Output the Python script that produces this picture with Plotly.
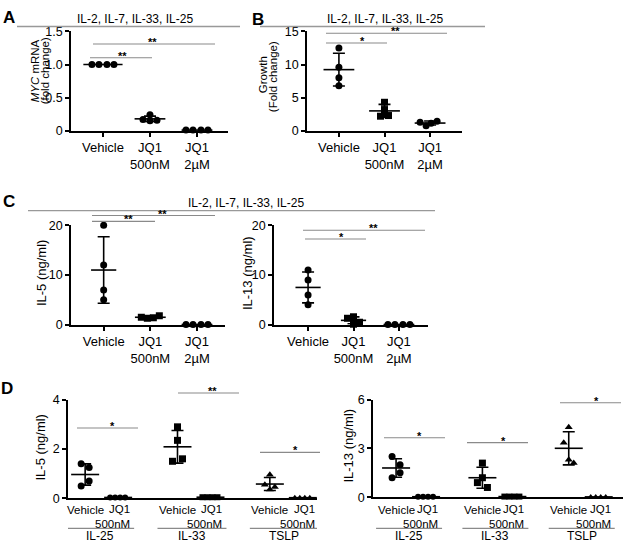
import numpy as np
import plotly.graph_objects as go

W, H = 625, 551
FONT = "Liberation Sans, Arial, sans-serif"

# ------------------------------------------------------------------ data
abc_categories = ["Vehicle", "JQ1 500nM", "JQ1 2µM"]
abc_ticktext = ["Vehicle", "JQ1<br>500nM", "JQ1<br>2µM"]
header_text = "IL-2, IL-7, IL-33, IL-25"

# Panel A: MYC mRNA (fold change)
myc_vehicle = [1.0, 1.0, 1.0, 1.0]
myc_jq1_500nm = [0.24, 0.17, 0.15, 0.16]
myc_jq1_2um = [0.01, 0.01, 0.01, 0.01]

# Panel B: Growth (fold change)
growth_vehicle = [12.5, 9.6, 8.0, 6.8]
growth_jq1_500nm = [4.3, 3.2, 2.2, 2.3]
growth_jq1_2um = [1.3, 0.75, 1.15, 1.45]

# Panel C: IL-5 / IL-13 (ng/ml)
c_il5_vehicle = [20.0, 12.0, 7.0, 5.0]
c_il5_jq1_500nm = [1.5, 1.3, 1.4, 1.8]
c_il5_jq1_2um = [0.03, 0.03, 0.03, 0.03]
c_il13_vehicle = [11.0, 9.0, 6.0, 4.0]
c_il13_jq1_500nm = [1.3, 1.6, 0.1, 0.5]
c_il13_jq1_2um = [0.03, 0.03, 0.03, 0.03]

# Panel D: single cytokine stimulation
d_stimuli = ["IL-25", "IL-33", "TSLP"]
d_treatments = ["Vehicle", "JQ1<br>500nM"]
d_il5_vehicle_il25 = [1.4, 1.25, 0.7, 0.5]
d_il5_vehicle_il33 = [2.9, 2.35, 1.5, 1.6]
d_il5_vehicle_tslp = [0.95, 0.55, 0.45, 0.35]
d_il5_jq1_il25 = [0.03, 0.03, 0.03, 0.03]
d_il5_jq1_il33 = [0.04, 0.04, 0.04, 0.04]
d_il5_jq1_tslp = [0.02, 0.02, 0.02, 0.02]
d_il13_vehicle_il25 = [2.5, 2.0, 1.5, 1.2]
d_il13_vehicle_il33 = [2.1, 1.2, 0.9, 0.6]
d_il13_vehicle_tslp = [4.3, 3.35, 2.1, 2.3]
d_il13_jq1_il25 = [0.03, 0.03, 0.03, 0.03]
d_il13_jq1_il33 = [0.04, 0.04, 0.04, 0.04]
d_il13_jq1_tslp = [0.02, 0.02, 0.02, 0.02]

# ------------------------------------------------------------------ helpers
def fx(px):
    return px / W


def fy(py):
    return 1 - py / H


# subplot geometry (pixels) and ranges
axes_cfg = {
    1: dict(x=(71, 228), y=(25, 127), xr=(-0.68, 2.66), yr=(0, 1.5),
            yt=[0, 0.5, 1.0, 1.5], ytt=["0", "0.5", "1.0", "1.5"], cat=True),
    2: dict(x=(307, 462), y=(25, 127), xr=(-0.70, 2.70), yr=(0, 15),
            yt=[0, 5, 10, 15], ytt=["0", "5", "10", "15"], cat=True),
    3: dict(x=(71, 225), y=(224, 326), xr=(-0.70, 2.60), yr=(0, 20),
            yt=[0, 10, 20], ytt=["0", "10", "20"], cat=True),
    4: dict(x=(274, 428), y=(224, 326), xr=(-0.75, 2.64), yr=(0, 20),
            yt=[0, 10, 20], ytt=["0", "10", "20"], cat=True),
    5: dict(x=(68, 317), y=(403, 504), xr=(-0.52, 7.03), yr=(0, 4),
            yt=[0, 2, 4], ytt=["0", "2", "4"], cat=False),
    6: dict(x=(373, 623), y=(403, 503), xr=(-0.77, 7.57), yr=(0, 6),
            yt=[0, 3, 6], ytt=["0", "3", "6"], cat=False),
}


def px_per_unit(n):
    c = axes_cfg[n]
    return (c["x"][1] - c["x"][0]) / (c["xr"][1] - c["xr"][0])


fig = go.Figure()


def add_group(n, center, values, offsets_px, symbol="circle", mean_len=22, msize=7):
    u = px_per_unit(n)
    xs = [center + o / u for o in offsets_px]
    ax = "x" if n == 1 else f"x{n}"
    ay = "y" if n == 1 else f"y{n}"
    fig.add_trace(go.Scatter(
        x=xs, y=values, mode="markers", xaxis=ax, yaxis=ay, cliponaxis=False,
        marker=dict(symbol=symbol, size=msize, color="black", line=dict(width=0)),
        showlegend=False, hoverinfo="y"))
    v = np.asarray(values, dtype=float)
    m = float(v.mean())
    sd = float(v.std(ddof=1))
    fig.add_trace(go.Scatter(
        x=[center], y=[m], mode="markers", xaxis=ax, yaxis=ay, cliponaxis=False,
        marker=dict(symbol="line-ew", size=mean_len, color="black",
                    line=dict(width=1.6, color="black")),
        error_y=dict(type="data", array=[sd], visible=sd > 1e-9, color="black",
                     thickness=1.6, width=6),
        showlegend=False, hoverinfo="y"))


ROW4 = [-11, -4, 4, 11]
VERT = [0, 0, 0, 0]

# Panel A
add_group(1, 0, myc_vehicle, ROW4, mean_len=28)
add_group(1, 1, myc_jq1_500nm, [0, -7, 0, 7])
add_group(1, 2, myc_jq1_2um, ROW4)
# Panel B
add_group(2, 0, growth_vehicle, VERT)
add_group(2, 1, growth_jq1_500nm, [0, 0, -4, 4], symbol="square")
add_group(2, 2, growth_jq1_2um, [-10, -4, 1, 7])
# Panel C
add_group(3, 0, c_il5_vehicle, VERT, mean_len=18)
add_group(3, 1, c_il5_jq1_500nm, [-9, -3, 3, 9], symbol="square")
add_group(3, 2, c_il5_jq1_2um, ROW4)
add_group(4, 0, c_il13_vehicle, VERT, mean_len=18)
add_group(4, 1, c_il13_jq1_500nm, [-6, 0, 0, 6], symbol="square", mean_len=18)
add_group(4, 2, c_il13_jq1_2um, ROW4)

# Panel D positions (x units)
d_stride = {5: 2.8, 6: 2.88}
d_symbols = ["circle", "square", "triangle-up"]
d_veh_offsets = [[-4, 4, 4, -4], [0, 0, -5, 5], [0, -5, 5, 0]]
d_il5_vehicle = [d_il5_vehicle_il25, d_il5_vehicle_il33, d_il5_vehicle_tslp]
d_il5_jq1 = [d_il5_jq1_il25, d_il5_jq1_il33, d_il5_jq1_tslp]
d_il13_vehicle = [d_il13_vehicle_il25, d_il13_vehicle_il33, d_il13_vehicle_tslp]
d_il13_jq1 = [d_il13_jq1_il25, d_il13_jq1_il33, d_il13_jq1_tslp]

for n, veh, jq in [(5, d_il5_vehicle, d_il5_jq1), (6, d_il13_vehicle, d_il13_jq1)]:
    for g in range(3):
        base = g * d_stride[n]
        add_group(n, base, veh[g], d_veh_offsets[g], symbol=d_symbols[g], mean_len=20)
        add_group(n, base + 1, jq[g], [-8, -3, 2, 7], symbol=d_symbols[g], msize=6, mean_len=20)

# ------------------------------------------------------------------ axes
layout_axes = {}
for n, c in axes_cfg.items():
    xk = "xaxis" if n == 1 else f"xaxis{n}"
    yk = "yaxis" if n == 1 else f"yaxis{n}"
    common = dict(showline=True, linecolor="black", linewidth=1.6, showgrid=False,
                  zeroline=False, fixedrange=True, ticks="outside", ticklen=4,
                  tickwidth=1.5, tickcolor="black")
    xa = dict(domain=[fx(c["x"][0]), fx(c["x"][1])], range=list(c["xr"]),
              anchor="y" if n == 1 else f"y{n}", **common)
    if c["cat"]:
        xa.update(tickmode="array", tickvals=[0, 1, 2], ticktext=abc_ticktext,
                  tickfont=dict(size=13, color="black", family=FONT))
    else:
        xa.update(ticks="", showticklabels=False)
    ya = dict(domain=[fy(c["y"][1]), fy(c["y"][0])], range=list(c["yr"]),
              anchor="x" if n == 1 else f"x{n}", tickmode="array",
              tickvals=c["yt"], ticktext=c["ytt"],
              tickfont=dict(size=12.5, color="black", family=FONT),
              **common)
    layout_axes[xk] = xa
    layout_axes[yk] = ya

shapes = []
annotations = []


def hline(x0, x1, y, color="#8a8a8a", width=1.1):
    shapes.append(dict(type="line", xref="paper", yref="paper", x0=fx(x0), x1=fx(x1),
                       y0=fy(y), y1=fy(y), line=dict(color=color, width=width)))


def text(x, y, s, size=12, angle=0, bold=False, xanchor="center", xref="paper",
         align="center"):
    annotations.append(dict(
        x=fx(x) if xref == "paper" else x, y=fy(y), xref=xref, yref="paper",
        text=f"<b>{s}</b>" if bold else s, showarrow=False, textangle=angle,
        xanchor=xanchor, yanchor="middle", align=align,
        font=dict(size=size, color="black", family=FONT)))


# panel letters
text(9, 11, "A", 17, bold=True)
text(258, 13, "B", 17, bold=True)
text(9, 200, "C", 17, bold=True)
text(7, 391, "D", 17, bold=True)

# header lines + text
for (x0, x1, ly, tx, ty) in [(17, 240, 20, 135, 12), (260, 485, 20, 385, 12),
                             (28, 435, 209, 246, 201)]:
    hline(x0, x1, ly, color="#999999", width=1.3)
    text(tx, ty, header_text, 12)

# y-axis titles
text(35, 66, "<i>MYC</i> mRNA", 11.5, angle=-90)
text(45, 66, "(fold change)", 11.5, angle=-90)
text(263, 70, "Growth", 11.5, angle=-90)
text(273, 72, "(Fold change)", 11.5, angle=-90)
text(41, 273, "IL-5 (ng/ml)", 13, angle=-90)
text(247, 273, "IL-13 (ng/ml)", 13, angle=-90)
text(41, 452, "IL-5 (ng/ml)", 13, angle=-90)
text(349, 450, "IL-13 (ng/ml)", 13, angle=-90)

# significance bars: (x0, x1, y, label, label_x)
sig = [
    (90, 152, 52, "**", 122), (93, 215, 38, "**", 152),
    (326, 387, 37, "*", 362), (326, 447, 27, "**", 395),
    (92, 155, 220, "**", 128), (92, 215, 214, "**", 162),
    (303, 425, 229, "**", 373), (305, 366, 238, "*", 341),
    (77, 138, 432, "*", 113), (178, 239, 396, "**", 212), (260, 320, 457, "*", 295),
    (384, 445, 442, "*", 419), (467, 528, 447, "*", 503), (560, 621, 406, "*", 596),
]
for x0, x1, y, lab, lx in sig:
    hline(x0, x1, y)
    text(lx, y - 2, lab, 11, bold=True)

# Panel D category labels and group lines
for n in (5, 6):
    u = px_per_unit(n)
    xr = "x5" if n == 5 else "x6"
    for g, stim in enumerate(d_stimuli):
        base = g * d_stride[n]
        text(base, 516, d_treatments[0], 11.5, xref=xr)
        text(base + 1 + 14 / u, 523, d_treatments[1], 11.5, xanchor="right",
             align="right", xref=xr)
        shapes.append(dict(type="line", xref=xr, yref="paper",
                           x0=base - 20 / u, x1=base + 1 + 16 / u,
                           y0=fy(535), y1=fy(535), line=dict(color="#8a8a8a", width=1.1)))
        text(base + (1 - 4 / u) / 2, 543, stim, 12, xref=xr)

fig.update_layout(
    width=W, height=H, autosize=False,
    margin=dict(l=0, r=0, t=0, b=0),
    paper_bgcolor="white", plot_bgcolor="white",
    font=dict(family=FONT, color="black"),
    showlegend=False,
    shapes=shapes, annotations=annotations,
    **layout_axes,
)

fig.write_html(
    "out.html", include_plotlyjs=True,
    config={"displayModeBar": False},
    post_script="document.body.style.margin='0';document.body.style.overflow='hidden';",
)
